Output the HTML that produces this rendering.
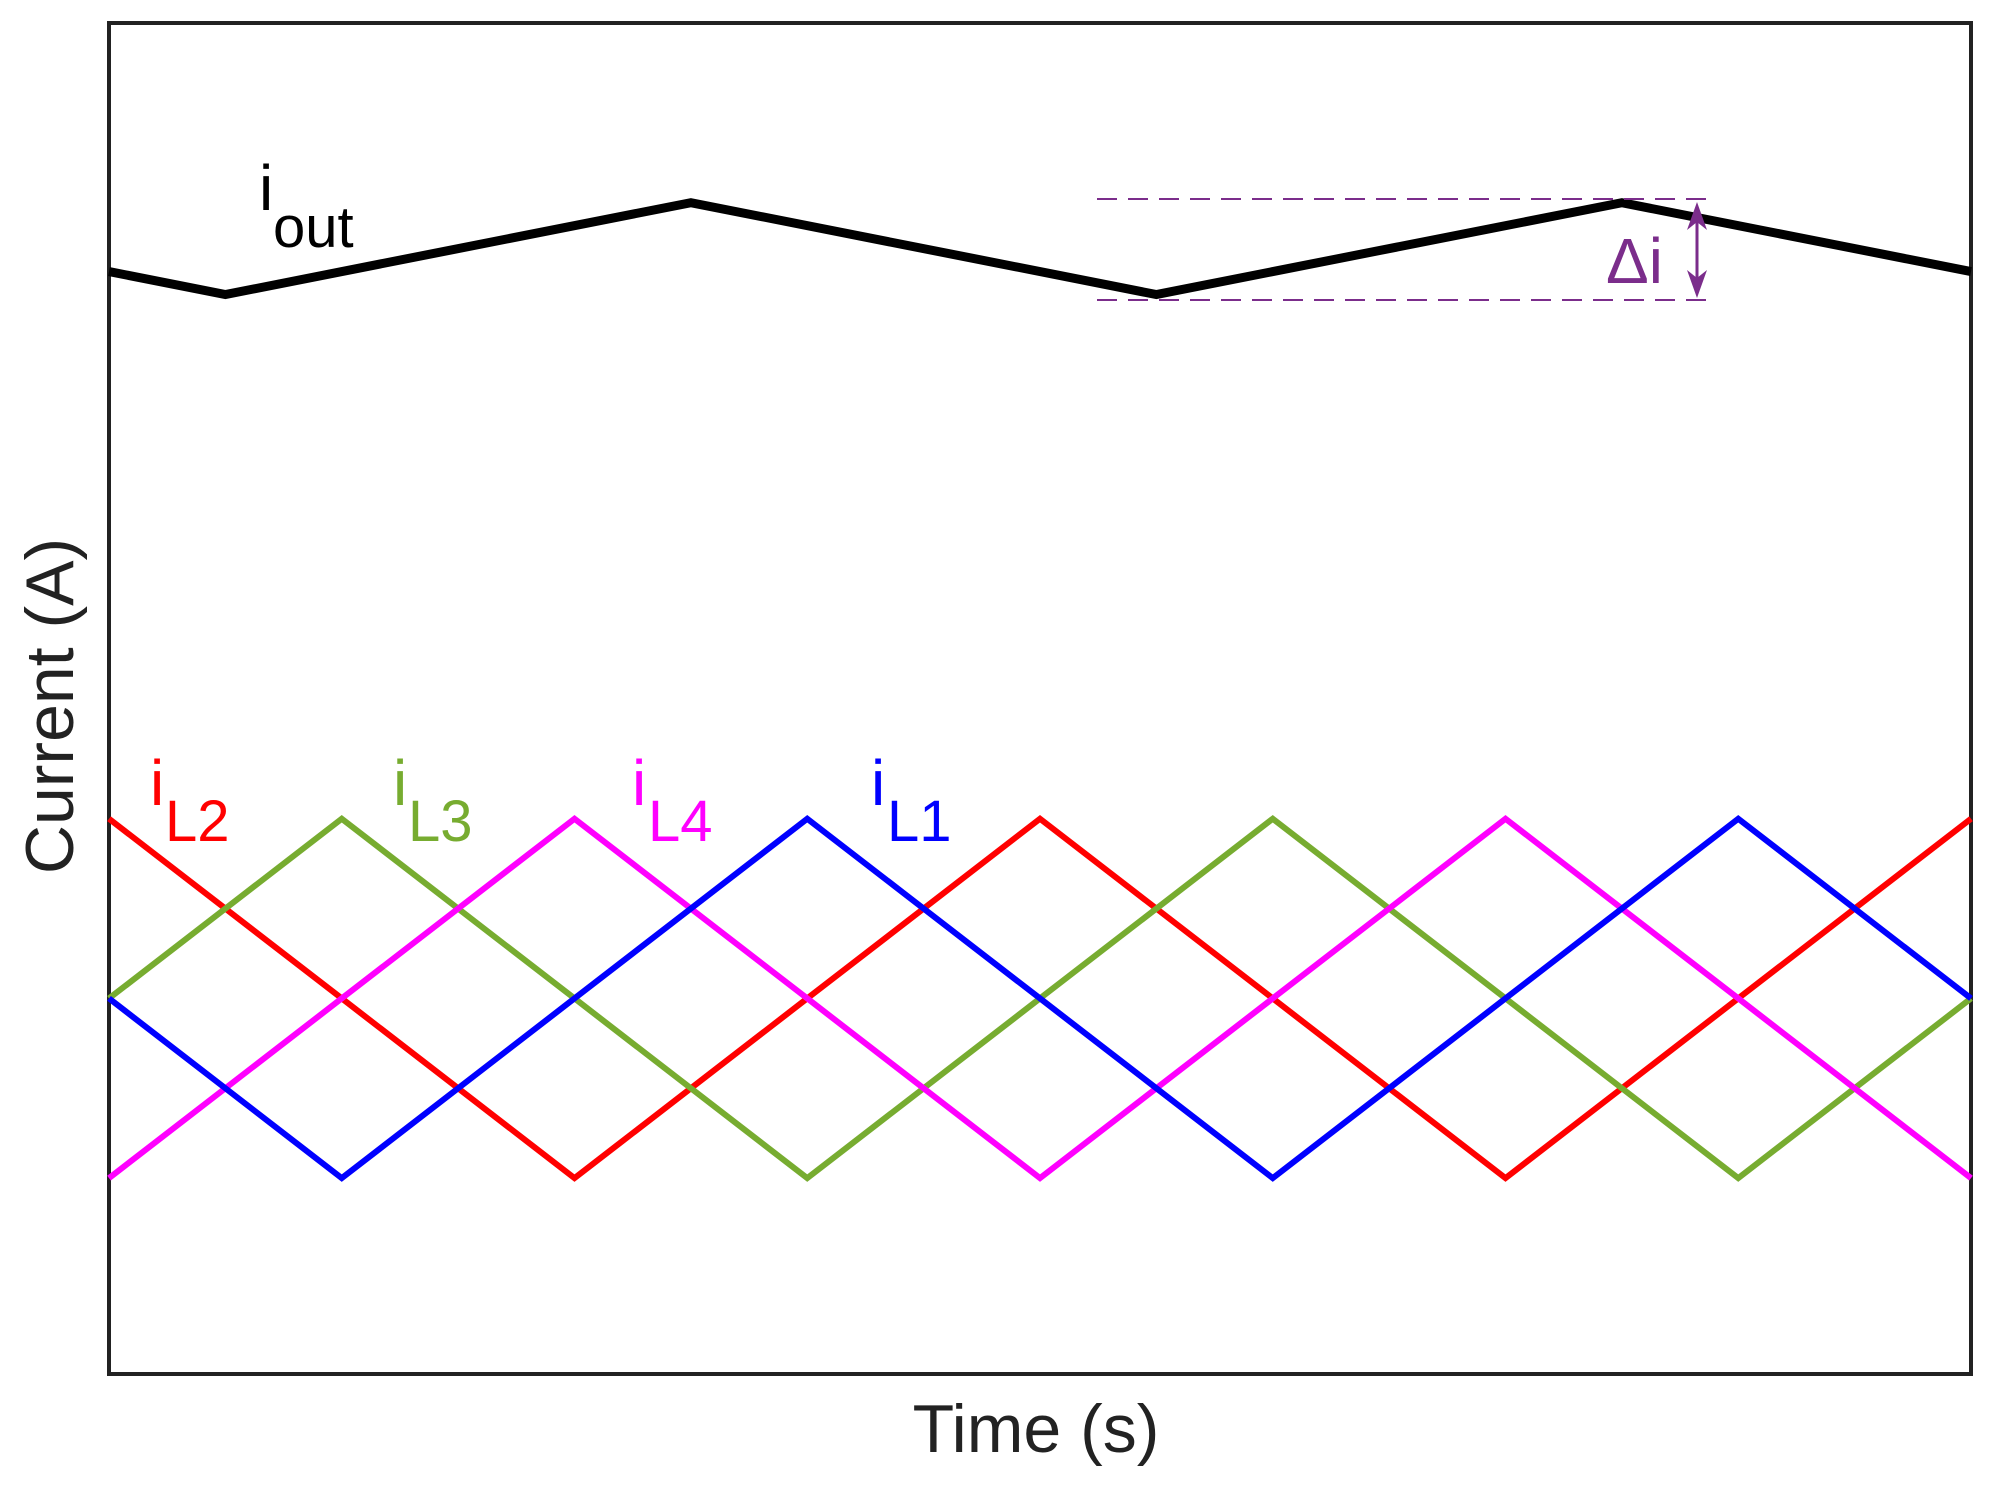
<!DOCTYPE html>
<html><head><meta charset="utf-8"><style>
html,body{margin:0;padding:0;background:#fff;}
svg{display:block;font-family:"Liberation Sans",Arial,sans-serif;}
</style></head><body>
<svg id="chart" width="1995" height="1487" viewBox="0 0 1995 1487">
<rect x="109" y="23" width="1862" height="1351" fill="#fff" stroke="#222" stroke-width="4"/>
<g id="series"></g>
<g stroke="#7B2D8B" fill="#7B2D8B">
<line x1="1097" y1="199" x2="1714" y2="199" stroke-width="2" stroke-dasharray="20,11"/>
<line x1="1097" y1="300" x2="1714" y2="300" stroke-width="2" stroke-dasharray="20,11"/>
<line x1="1697" y1="215" x2="1697" y2="288" stroke-width="3"/>
<polygon points="1697,202 1687,230 1697,222 1707,230" stroke="none"/>
<polygon points="1697,298 1687,270 1697,278 1707,270" stroke="none"/>
<text x="1606" y="283" font-size="64" stroke="none">Δi</text>
</g>
<text x="259" y="210" font-size="64" fill="#000">i</text>
<text x="273" y="247" font-size="58" fill="#000">out</text>
<text x="150" y="805" font-size="64" fill="#f00">i</text>
<text x="165" y="841" font-size="58" fill="#f00">L2</text>
<text x="393" y="805" font-size="64" fill="#77AC30">i</text>
<text x="408" y="841" font-size="58" fill="#77AC30">L3</text>
<text x="632" y="805" font-size="64" fill="#f0f">i</text>
<text x="648" y="841" font-size="58" fill="#f0f">L4</text>
<text x="871" y="805" font-size="64" fill="#00f">i</text>
<text x="887" y="841" font-size="58" fill="#00f">L1</text>
<text x="1036" y="1452" font-size="68" text-anchor="middle" fill="#222">Time (s)</text>
<text x="0" y="0" font-size="68" text-anchor="middle" fill="#222" transform="translate(73,706) rotate(-90)">Current (A)</text>
</svg>
<script>
const times = [0,1,2,3,4,5,6,7,8];
const iL1 = [27.8,14.5,27.8,41.1,27.8,14.5,27.8,41.1,27.8];
const iL2 = [41.1,27.8,14.5,27.8,41.1,27.8,14.5,27.8,41.1];
const iL3 = [27.8,41.1,27.8,14.5,27.8,41.1,27.8,14.5,27.8];
const iL4 = [14.5,27.8,41.1,27.8,14.5,27.8,41.1,27.8,14.5];
const ioutTimes = [0,0.5,2.5,4.5,6.5,8];
const ioutValues = [81.6,79.9,86.7,79.9,86.7,81.6];

const X0=109,X1=1971,Y0=1374,Y1=23;
function xs(t){return X0+(t-0)/(8-0)*(X1-X0);}
function ys(v){return Y0-(v/100)*(Y0-Y1);}
const g=document.getElementById('series');
function draw(tArr,vArr,color,w,name){
  const p=document.createElementNS('http://www.w3.org/2000/svg','polyline');
  p.setAttribute('points',tArr.map((t,i)=>xs(t)+','+ys(vArr[i])).join(' '));
  p.setAttribute('fill','none');p.setAttribute('stroke',color);
  p.setAttribute('stroke-width',w);p.setAttribute('stroke-linejoin','miter');
  
  
  g.appendChild(p);
}
draw(times,iL2,'#ff0000',6,'il2-line');
draw(times,iL3,'#77AC30',6,'il3-line');
draw(times,iL4,'#ff00ff',6,'il4-line');
draw(times,iL1,'#0000ff',6,'il1-line');
draw(ioutTimes,ioutValues,'#000000',9,'iout-line');
</script>
</body></html>
